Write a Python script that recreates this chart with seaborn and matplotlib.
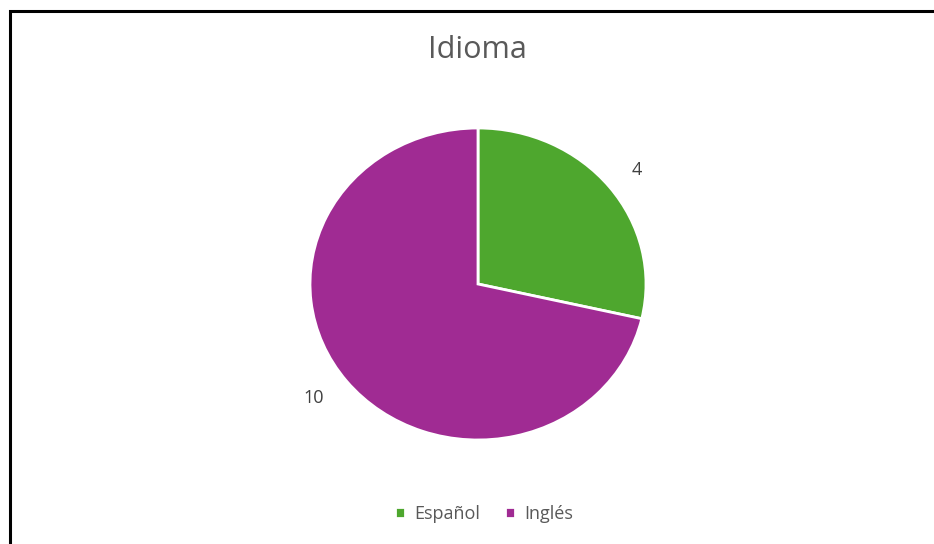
import matplotlib
matplotlib.use("Agg")
import matplotlib.pyplot as plt
from matplotlib.patches import Rectangle
import seaborn as sns

categories = ["Español", "Inglés"]
values = [4, 10]
title = "Idioma"

sns.set_theme(style="white")
plt.rcParams['font.family'] = ['Open Sans', 'DejaVu Sans']
colors = ["#4EA72E", "#A02B93"]

W, H = 934, 544
fig = plt.figure(figsize=(W / 100, H / 100), dpi=100)
fig.patch.set_facecolor("white")

# border (frame of chart area)
fig.add_artist(Rectangle((9.5 / W, -0.05), 1.2, (H - 11) / H + 0.05,
                         transform=fig.transFigure, fill=False,
                         edgecolor="black", linewidth=2.2))

cx, cy, rx, ry = 478, 284, 168, 156
ax = fig.add_axes([(cx - rx) / W, (H - cy - ry) / H, 2 * rx / W, 2 * ry / H])
wedges, texts = ax.pie(values, labels=[str(v) for v in values], colors=colors,
                       startangle=90, counterclock=False, radius=1,
                       labeldistance=1.17,
                       wedgeprops=dict(edgecolor="white", linewidth=2),
                       textprops=dict(color="#404040", fontsize=13))
ax.set_aspect("auto")
ax.set_xlim(-1, 1)
ax.set_ylim(-1, 1)
ax.axis("off")

fig.text(477 / W, 1 - 50 / H, title, ha="center", va="center",
         fontsize=22, color="#595959")

leg = fig.legend(wedges, categories, loc="center", bbox_to_anchor=(484 / W, 1 - 514 / H),
                 ncol=2, frameon=False, fontsize=13, handlelength=0.55, handleheight=0.55,
                 handletextpad=0.5, columnspacing=1.4)
for t in leg.get_texts():
    t.set_color("#595959")

fig.savefig("out.png", dpi=100, facecolor="white")
